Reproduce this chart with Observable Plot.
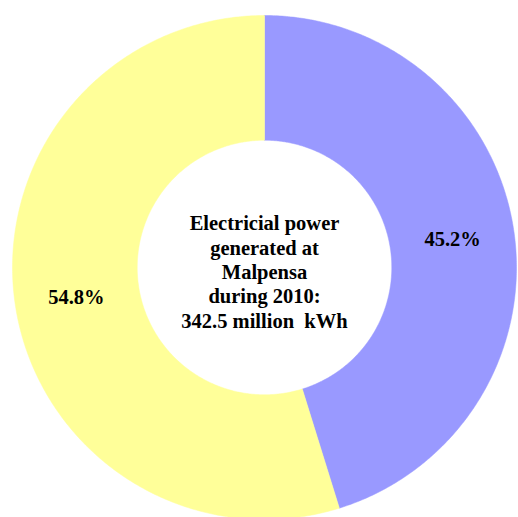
<!DOCTYPE html>
<html>
<head>
<meta charset="utf-8">
<script src="https://cdn.jsdelivr.net/npm/d3@7"></script>
<script src="https://cdn.jsdelivr.net/npm/@observablehq/plot@0.6"></script>
<style>
  html, body { margin: 0; padding: 0; background: #fff; }
  #chart svg text { font-family: "Liberation Serif", "Times New Roman", serif !important; font-weight: bold; }
</style>
</head>
<body>
<div id="chart"></div>
<script>
const categories = ["Share A", "Share B"];
const values = [45.2, 54.8];
const labels = ["45.2%", "54.8%"];
const colors = ["#9999ff", "#ffff99"];
const centerTitle = "Electricial power\ngenerated at\nMalpensa\nduring 2010:\n342.5 million  kWh";

const W = 518, H = 517;
const cx = 264, cy = 267, R = 252;
const innerRatio = 0.505;
const labelRatio = 0.755;

const total = d3.sum(values);
let acc = 0;
const slices = values.map((v, i) => {
  const a0 = acc / total * 2 * Math.PI;
  acc += v;
  const a1 = acc / total * 2 * Math.PI;
  return {category: categories[i], value: v, label: labels[i], color: colors[i], a0, a1};
});

// angle measured clockwise from 12 o'clock; data y is up
const pt = (r, a) => [r * Math.sin(a), r * Math.cos(a)];

function slicePolygon(s) {
  const n = Math.max(8, Math.ceil((s.a1 - s.a0) / (Math.PI / 360)));
  const outer = d3.range(n + 1).map(k => pt(1, s.a0 + (s.a1 - s.a0) * k / n));
  const inner = d3.range(n + 1).map(k => pt(innerRatio, s.a1 - (s.a1 - s.a0) * k / n));
  const ring = outer.concat(inner);
  ring.push(ring[0]);
  return {type: "Feature", properties: {color: s.color}, geometry: {type: "Polygon", coordinates: [ring]}};
}

const features = slices.map(slicePolygon);
const labelData = slices.map(s => {
  const m = (s.a0 + s.a1) / 2;
  const [x, y] = pt(labelRatio, m);
  return {x, y, label: s.label};
});

// domain rectangle equals the frame, in data units
const x0 = -cx / R, x1 = (W - cx) / R, y0 = -(H - cy) / R, y1 = cy / R;
const frame = {type: "Feature", geometry: {type: "Polygon", coordinates: [[[x0, y0], [x0, y1], [x1, y1], [x1, y0], [x0, y0]]]}};

const serif = "'Liberation Serif', 'Times New Roman', serif";
const chart = Plot.plot({
  width: W,
  height: H,
  margin: 0,
  projection: {type: "reflect-y", domain: frame, inset: 0},
  style: {background: "#fff", fontFamily: serif},
  marks: [
    Plot.geo(features, {fill: d => d.properties.color, stroke: d => d.properties.color, strokeWidth: 0.5}),
    Plot.text(labelData, {x: "x", y: "y", text: "label", fontFamily: serif, fontWeight: "bold", fontSize: 20.5, fill: "#000", dy: 1}),
    Plot.text([{x: 0, y: -0.015, t: centerTitle}], {x: "x", y: "y", text: "t", fontFamily: serif, fontWeight: "bold", fontSize: 20.5, lineHeight: 1.19, fill: "#000"})
  ]
});
document.getElementById("chart").appendChild(chart);
</script>
</body>
</html>
